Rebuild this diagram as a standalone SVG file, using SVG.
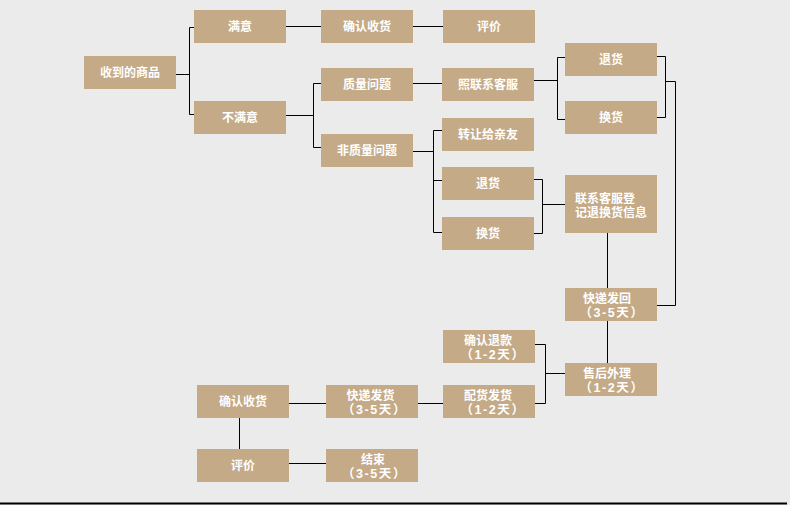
<svg xmlns="http://www.w3.org/2000/svg" width="790" height="505" viewBox="0 0 790 505">
<style>
.b{fill:#c4aa87}
text{font-family:"Liberation Sans","Noto Sans CJK SC",sans-serif;font-size:12px;font-weight:bold;fill:#fff;text-anchor:middle}
.d{letter-spacing:1.6px;font-size:12.5px}
.c{fill:none;stroke:#000;stroke-width:1}
</style>
<rect width="790" height="505" fill="#ebebeb"/>
<g id="connectors" class="c">
<path d="M176 74.5H189.5M194 27.5H189.5V114.5H194"/>
<path d="M286 26.5H321M413 26.5H443"/>
<path d="M286 115.5H313.5M321 83.5H313.5V147.5H321"/>
<path d="M413 83.5H442"/>
<path d="M534 80.5H557.5M565 57.5H557.5V119.5H565"/>
<path d="M657 56.5H665.5V117.5H657M665.5 81.5H675.5V305.5H657"/>
<path d="M413 151.5H433.5M442 130.5H433.5V232.5H442M433.5 180.5H442"/>
<path d="M534 179.5H542.5V233.5H534M542.5 204.5H565"/>
<path d="M607.5 233V288M607.5 321V363"/>
<path d="M535 344.5H545.5V403.5H535M545.5 373.5H565"/>
<path d="M418 403.5H443M289 403.5H326"/>
<path d="M239.5 418V449"/>
<path d="M289 463.5H326"/>
<path d="M0 503.5H787" stroke-width="2"/>
</g>
<g id="n1"><rect class="b" x="84" y="56" width="92" height="33"/><text x="130" y="77">收到的商品</text></g>
<g id="n2"><rect class="b" x="194" y="10" width="92" height="33"/><text x="240" y="31">满意</text></g>
<g id="n3"><rect class="b" x="194" y="101" width="92" height="33"/><text x="240" y="122">不满意</text></g>
<g id="n4"><rect class="b" x="321" y="10" width="92" height="33"/><text x="367" y="31">确认收货</text></g>
<g id="n5"><rect class="b" x="443" y="10" width="92" height="33"/><text x="489" y="31">评价</text></g>
<g id="n6"><rect class="b" x="321" y="68" width="92" height="33"/><text x="367" y="89">质量问题</text></g>
<g id="n7"><rect class="b" x="321" y="134" width="92" height="33"/><text x="367" y="155">非质量问题</text></g>
<g id="n8"><rect class="b" x="442" y="68" width="92" height="33"/><text x="488" y="89">照联系客服</text></g>
<g id="n9"><rect class="b" x="565" y="43" width="92" height="33"/><text x="611" y="64">退货</text></g>
<g id="n10"><rect class="b" x="565" y="101" width="92" height="33"/><text x="611" y="122">换货</text></g>
<g id="n11"><rect class="b" x="442" y="118" width="92" height="33"/><text x="488" y="139">转让给亲友</text></g>
<g id="n12"><rect class="b" x="442" y="167" width="92" height="33"/><text x="488" y="188">退货</text></g>
<g id="n13"><rect class="b" x="442" y="217" width="92" height="33"/><text x="488" y="238">换货</text></g>
<g id="n14"><rect class="b" x="565" y="175" width="92" height="58"/><text x="575" y="203" style="text-anchor:start">联系客服登</text><text x="575" y="216.5" style="text-anchor:start">记退换货信息</text></g>
<g id="n15"><rect class="b" x="565" y="288" width="92" height="33"/><text x="607" y="302.5">快递发回</text><text class="d" x="612" y="316.5">（3-5天）</text></g>
<g id="n16"><rect class="b" x="443" y="330" width="92" height="33"/><text x="488" y="344.5">确认退款</text><text class="d" x="493" y="358.5">（1-2天）</text></g>
<g id="n17"><rect class="b" x="565" y="363" width="92" height="33"/><text x="607" y="377.5">售后外理</text><text class="d" x="612" y="391.5">（1-2天）</text></g>
<g id="n18"><rect class="b" x="443" y="385" width="92" height="33"/><text x="488" y="399.5">配货发货</text><text class="d" x="493" y="413.5">（1-2天）</text></g>
<g id="n19"><rect class="b" x="326" y="385" width="92" height="33"/><text x="370.5" y="399.5">快递发货</text><text class="d" x="374.5" y="413.5">（3-5天）</text></g>
<g id="n20"><rect class="b" x="197" y="385" width="92" height="33"/><text x="243" y="406">确认收货</text></g>
<g id="n21"><rect class="b" x="197" y="449" width="92" height="33"/><text x="243" y="470">评价</text></g>
<g id="n22"><rect class="b" x="326" y="449" width="92" height="33"/><text x="373" y="463.5">结束</text><text class="d" x="374.5" y="477.5">（3-5天）</text></g>
</svg>
